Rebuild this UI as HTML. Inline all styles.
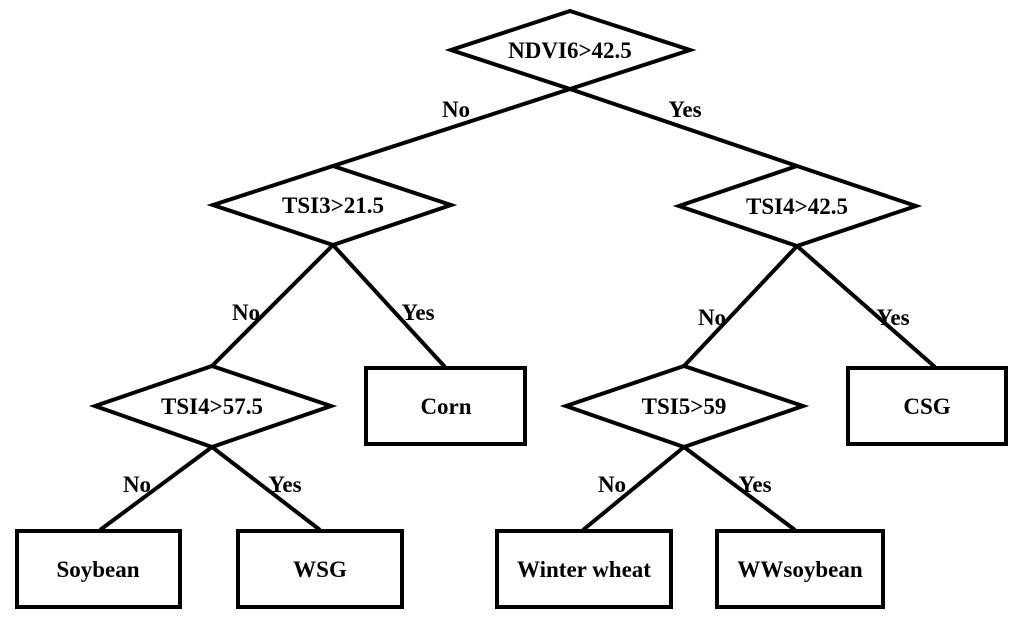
<!DOCTYPE html>
<html><head><meta charset="utf-8"><style>
html,body{margin:0;padding:0;background:#fff}
text{font-family:"Liberation Serif",serif;font-weight:bold;font-size:23px;fill:#000}
</style></head><body>
<svg width="1024" height="628" viewBox="0 0 1024 628" xmlns="http://www.w3.org/2000/svg">
<g stroke="#000" stroke-width="4" fill="none" stroke-linejoin="miter">
<line x1="570" y1="89" x2="333" y2="166"/>
<line x1="570" y1="89" x2="797" y2="166"/>
<line x1="333" y1="245" x2="212" y2="366"/>
<line x1="333" y1="245" x2="445" y2="367"/>
<line x1="797" y1="246" x2="684" y2="366"/>
<line x1="797" y1="246" x2="935" y2="367"/>
<line x1="212" y1="447" x2="100" y2="530"/>
<line x1="212" y1="447" x2="320" y2="530"/>
<line x1="684" y1="447" x2="583" y2="530"/>
<line x1="684" y1="447" x2="795" y2="530"/>
<polygon points="570,11 690,50 570,89 451,50" fill="#fff"/>
<polygon points="333,166 451,205 333,245 213,205" fill="#fff"/>
<polygon points="797,166 916,206 797,246 679,206" fill="#fff"/>
<polygon points="212,366 331,406 212,447 95,406" fill="#fff"/>
<polygon points="684,366 803,406 684,447 566,406" fill="#fff"/>
<rect x="366" y="368" width="159" height="76" fill="#fff"/>
<rect x="848" y="368" width="158" height="76" fill="#fff"/>
<rect x="17" y="531" width="163" height="76" fill="#fff"/>
<rect x="238" y="531" width="164" height="76" fill="#fff"/>
<rect x="497" y="531" width="174" height="76" fill="#fff"/>
<rect x="717" y="531" width="166" height="76" fill="#fff"/>
</g>
<g text-anchor="middle">
<text x="570" y="58">NDVI6&gt;42.5</text>
<text x="333" y="213">TSI3&gt;21.5</text>
<text x="797" y="214">TSI4&gt;42.5</text>
<text x="212" y="414">TSI4&gt;57.5</text>
<text x="684" y="414">TSI5&gt;59</text>
<text x="446" y="414">Corn</text>
<text x="927" y="414">CSG</text>
<text x="98" y="577">Soybean</text>
<text x="320" y="577">WSG</text>
<text x="584" y="577">Winter wheat</text>
<text x="800" y="577">WWsoybean</text>
<text x="456" y="117">No</text>
<text x="685" y="117">Yes</text>
<text x="246" y="320">No</text>
<text x="418" y="320">Yes</text>
<text x="712" y="325">No</text>
<text x="893" y="325">Yes</text>
<text x="137" y="492">No</text>
<text x="285" y="492">Yes</text>
<text x="612" y="492">No</text>
<text x="755" y="492">Yes</text>
</g>
</svg>
</body></html>
